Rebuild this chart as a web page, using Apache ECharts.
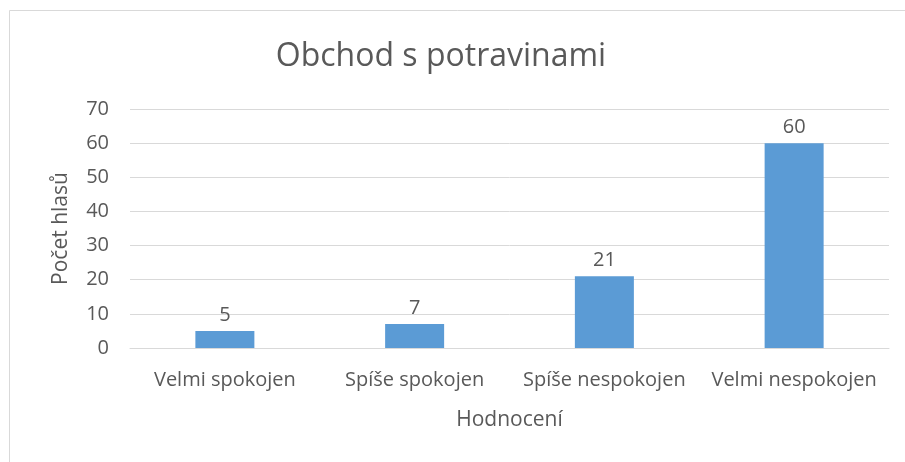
<!DOCTYPE html>
<html><head><meta charset="utf-8">
<script src="https://cdn.jsdelivr.net/npm/echarts@6/dist/echarts.min.js"></script>
<style>html,body{margin:0;padding:0;background:#fff}#c{width:905px;height:462px}</style>
</head><body><div id="c"></div>
<script>
var categories = ["Velmi spokojen", "Spíše spokojen", "Spíše nespokojen", "Velmi nespokojen"];
var values = [5, 7, 21, 60];
var yTicks = [0, 10, 20, 30, 40, 50, 60, 70];
var titleText = "Obchod s potravinami";
var xName = "Hodnocení";
var yName = "Počet hlasů";

var FONT = "Open Sans";
var TXT = "#595959";
var chart = echarts.init(document.getElementById('c'));
chart.setOption({
  animation: false,
  backgroundColor: '#fff',
  graphic: [{
    type: 'rect', shape: {x: 9.5, y: 10.5, width: 1000, height: 1000},
    style: {fill: 'none', stroke: '#d9d9d9', lineWidth: 1}, silent: true, z: -1
  }],
  title: {
    text: titleText, left: 436, top: 36, textAlign: 'center',
    textStyle: {fontFamily: FONT, fontSize: 32, fontWeight: 'normal', color: TXT}
  },
  grid: {left: 130, right: 16, top: 109, bottom: 114},
  xAxis: {
    type: 'category', data: categories,
    name: xName, nameLocation: 'middle', nameGap: 62,
    nameTextStyle: {fontFamily: FONT, fontSize: 21, color: TXT},
    axisLine: {show: true, lineStyle: {color: '#d9d9d9', width: 1}},
    axisTick: {show: false},
    axisLabel: {fontFamily: FONT, fontSize: 20, color: TXT, margin: 22, interval: 0}
  },
  yAxis: {
    type: 'value', min: yTicks[0], max: yTicks[yTicks.length - 1], interval: 10,
    name: yName, nameLocation: 'middle', nameGap: 58, nameRotate: 90,
    nameTextStyle: {fontFamily: FONT, fontSize: 21, color: TXT},
    axisLine: {show: false}, axisTick: {show: false},
    axisLabel: {fontFamily: FONT, fontSize: 20, color: TXT, margin: 21},
    splitLine: {lineStyle: {color: '#d9d9d9', width: 1}}
  },
  series: [{
    type: 'bar', data: values, barWidth: 59,
    itemStyle: {color: '#5B9BD5'},
    label: {show: true, position: 'top', distance: 6, fontFamily: FONT, fontSize: 20, color: TXT}
  }]
});
</script></body></html>
